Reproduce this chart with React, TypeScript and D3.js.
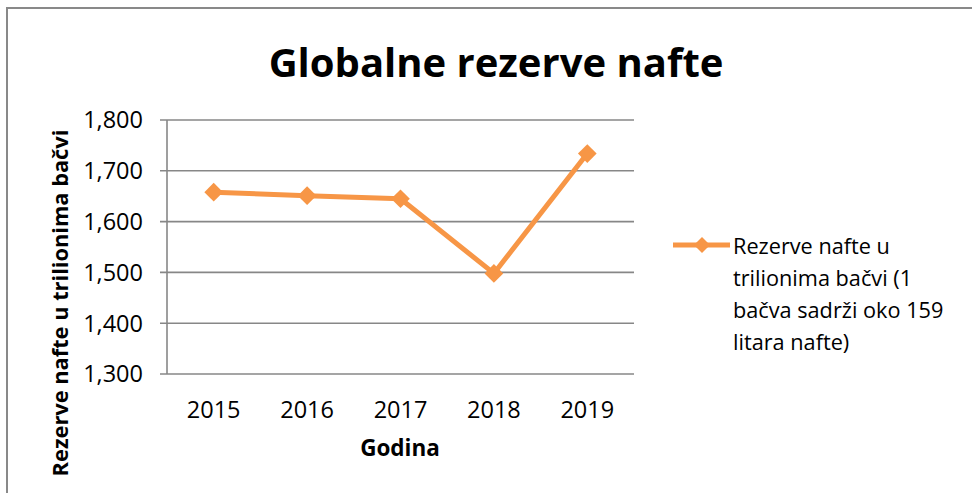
import React from "react";
import * as d3 from "d3";

const years = ["2015", "2016", "2017", "2018", "2019"];
const reserves = [1658, 1651, 1645, 1498, 1734];
const yTicks = [1300, 1400, 1500, 1600, 1700, 1800];
const title = "Globalne rezerve nafte";
const xTitle = "Godina";
const yTitle = "Rezerve nafte u trilionima bačvi";
const legendLines = ["Rezerve nafte u", "trilionima bačvi (1", "bačva sadrži oko 159", "litara nafte)"];

const W = 972;
const H = 493;
const FONT = "'Open Sans', 'Noto Sans', sans-serif";
const ORANGE = "#F79646";
const GRID = "#878787";

export default function App() {
  const left = 167, right = 634, top = 120, bottom = 374;
  const x = d3.scaleBand<string>().domain(years).range([left, right]).padding(0);
  const y = d3.scaleLinear().domain([1300, 1800]).range([bottom, top]);
  const cx = (d: string) => (x(d) as number) + x.bandwidth() / 2;
  const line = d3.line<number>().x((_, i) => cx(years[i])).y((v) => y(v));
  const diamond = d3.symbol().type(d3.symbolSquare).size(175)();
  const legendDiamond = d3.symbol().type(d3.symbolSquare).size(130)();
  const fmt = d3.format(",");

  return (
    <svg width={W} height={H} style={{ position: "absolute", left: 0, top: 0, background: "#fff" }} fontFamily={FONT}>
      <rect x={7} y={8} width={W + 20} height={H + 20} fill="#fff" stroke="#898989" strokeWidth={2} />
      <text x={496} y={77} textAnchor="middle" fontWeight="bold" fontSize={40} fill="#000">{title}</text>
      {yTicks.map((t) => (
        <g key={t}>
          <line x1={left - 7} x2={right} y1={y(t)} y2={y(t)} stroke={GRID} strokeWidth={1.6} />
          <text x={143} y={y(t)} dy="0.36em" textAnchor="end" fontSize={23.5} fill="#000">{fmt(t)}</text>
        </g>
      ))}
      <line x1={left} x2={left} y1={top} y2={bottom} stroke={GRID} strokeWidth={1.6} />
      {years.map((yr) => (
        <text key={yr} x={cx(yr)} y={418} textAnchor="middle" fontSize={23.5} fill="#000">{yr}</text>
      ))}
      <text x={400} y={456} textAnchor="middle" fontWeight="bold" fontSize={22.5} fill="#000">{xTitle}</text>
      <text transform={`translate(68,303) rotate(-90)`} textAnchor="middle" fontWeight="bold" fontSize={21.8} fill="#000">{yTitle}</text>
      <path d={line(reserves) as string} fill="none" stroke={ORANGE} strokeWidth={5} strokeLinejoin="round" />
      {reserves.map((v, i) => (
        <path key={i} d={diamond as string} transform={`translate(${cx(years[i])},${y(v)}) rotate(45)`} fill={ORANGE} />
      ))}
      <line x1={673} x2={730} y1={245} y2={245} stroke={ORANGE} strokeWidth={5} />
      <path d={legendDiamond as string} transform={`translate(702,245) rotate(45)`} fill={ORANGE} />
      {legendLines.map((l, i) => (
        <text key={i} x={733} y={254 + i * 32} fontSize={21.7} fill="#000">{l}</text>
      ))}
    </svg>
  );
}
